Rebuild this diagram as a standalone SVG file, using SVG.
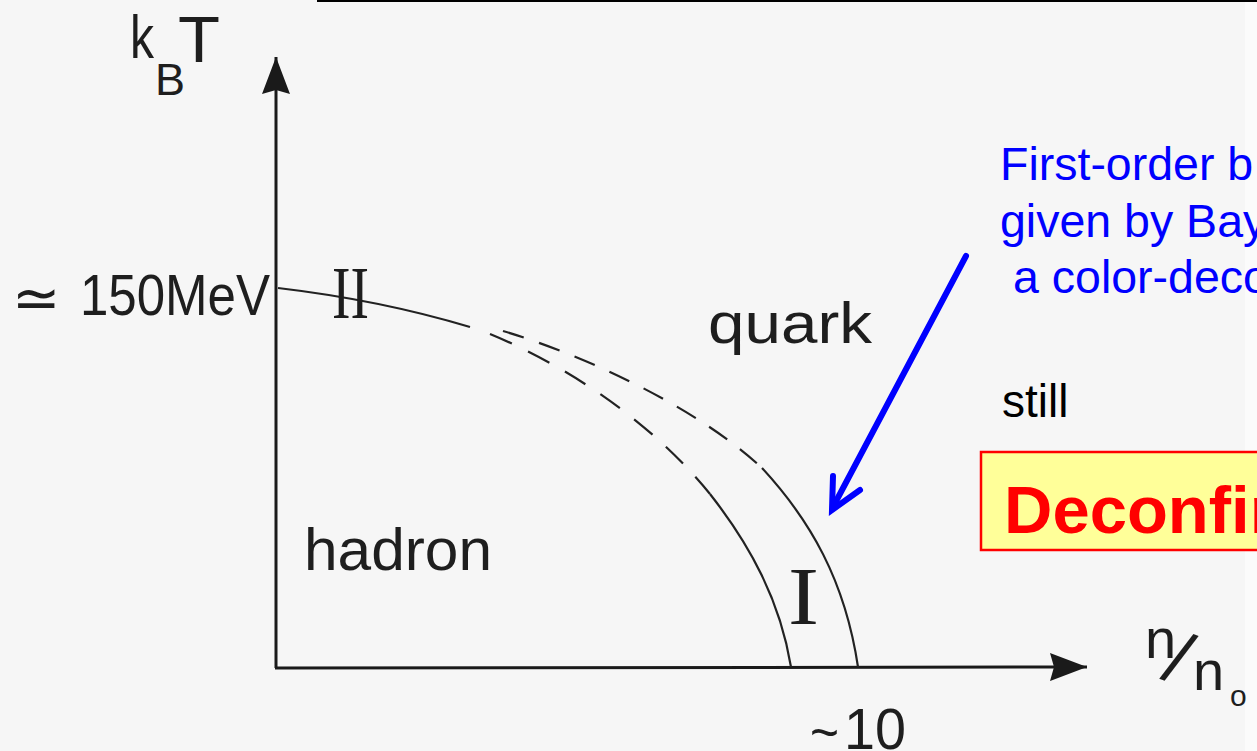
<svg xmlns="http://www.w3.org/2000/svg" width="1257" height="751" viewBox="0 0 1257 751">
<style>
.hand{font-family:"Liberation Sans","DejaVu Sans",sans-serif;fill:#1e1e1e}
.roman{font-family:"Liberation Serif","DejaVu Serif",serif;fill:#1e1e1e}
.blue{font-family:"Liberation Sans",Arial,sans-serif;font-size:46.5px;fill:#0000ff}
.ax{stroke:#1a1a1a;stroke-width:3;fill:none}
.cv{stroke:#222;stroke-width:2.2;fill:none}
.dash{stroke-dasharray:22 16}
</style>
<defs>
<marker id="ah" viewBox="0 0 37 28" refX="37" refY="14" markerWidth="37" markerHeight="28" markerUnits="userSpaceOnUse" orient="auto">
<path d="M0,0 L37,14 L0,28 L4,14 Z" fill="#1a1a1a"/>
</marker>
</defs>
<rect x="0" y="0" width="1257" height="751" fill="#f6f6f6"/>
<rect x="1245" y="0" width="12" height="751" fill="#fbfbfb"/>
<line x1="317" y1="1" x2="1257" y2="1" stroke="#000" stroke-width="2"/>

<g id="axes">
<line class="ax" x1="276" y1="668" x2="276" y2="57" marker-end="url(#ah)"/>
<line class="ax" x1="275" y1="668" x2="1087" y2="667" marker-end="url(#ah)"/>
</g>

<g id="connectors">
<path class="cv" d="M278,288 Q380,300 470,327"/>
<path class="cv dash" d="M503,331 C590,357 700,410 762,468"/>
<path class="cv" d="M762,468 C810,520 845,580 858,667"/>
<path class="cv dash" d="M490,334 C565,365 650,420 710,494" style="stroke-dasharray:24 18"/>
<path class="cv" d="M710,494 C750,545 780,600 791,667"/>
<line x1="966" y1="256" x2="833" y2="507" stroke="#0000ff" stroke-width="6" stroke-linecap="round"/>
<polyline points="833,476 832,510 860,490" fill="none" stroke="#0000ff" stroke-width="6" stroke-linecap="round" stroke-linejoin="miter"/>
</g>

<g id="label-kBT">
<text class="hand" x="130" y="58" font-size="62" textLength="24" lengthAdjust="spacingAndGlyphs">k</text>
<text class="hand" x="155" y="95" font-size="45">B</text>
<text class="hand" x="178" y="62" font-size="64" textLength="42" lengthAdjust="spacingAndGlyphs">T</text>
</g>

<g id="label-150MeV">
<text x="12" y="318" font-family="DejaVu Sans,sans-serif" font-size="58" fill="#1e1e1e">≃</text>
<text class="hand" x="80" y="315" font-size="58" textLength="190" lengthAdjust="spacingAndGlyphs">150MeV</text>
</g>

<g id="label-II">
<text class="roman" x="332" y="318" font-size="75" textLength="37" lengthAdjust="spacingAndGlyphs">II</text>
</g>

<g id="label-I">
<text class="roman" x="788" y="624" font-size="82" textLength="31" lengthAdjust="spacingAndGlyphs">I</text>
</g>

<g id="label-quark">
<text class="hand" x="708" y="343" font-size="58" textLength="164" lengthAdjust="spacingAndGlyphs">quark</text>
</g>

<g id="label-hadron">
<text class="hand" x="304" y="570" font-size="59" textLength="188" lengthAdjust="spacingAndGlyphs">hadron</text>
</g>

<g id="label-10">
<text class="hand" x="810" y="751" font-size="56" textLength="29" lengthAdjust="spacingAndGlyphs">~</text>
<text class="hand" x="844" y="749" font-size="57" textLength="62" lengthAdjust="spacingAndGlyphs">10</text>
</g>

<g id="label-n-n0">
<text class="hand" x="1145" y="658" font-size="56">n</text>
<text class="hand" x="1168" y="686" font-size="74" transform="rotate(22 1184 660)">/</text>
<text class="hand" x="1193" y="690" font-size="56">n</text>
<text class="hand" x="1230" y="706" font-size="30">o</text>
</g>

<g id="note-first-order">
<text class="blue" x="1000" y="180">First-order b</text>
<text class="blue" x="1000" y="237">given by Bay</text>
<text class="blue" x="1013" y="293">a color-deco</text>
</g>

<g id="label-still">
<text x="1002" y="417" font-family="Liberation Sans,Arial,sans-serif" font-size="46" fill="#000">still</text>
</g>

<g id="box-deconfinement">
<rect x="981" y="452" width="290" height="98" fill="#ffff99" stroke="#ff0000" stroke-width="2.5"/>
<text x="1004" y="533" font-family="Liberation Sans,Arial,sans-serif" font-size="67" font-weight="bold" fill="#ff0000">Deconfir</text>
</g>
</svg>
